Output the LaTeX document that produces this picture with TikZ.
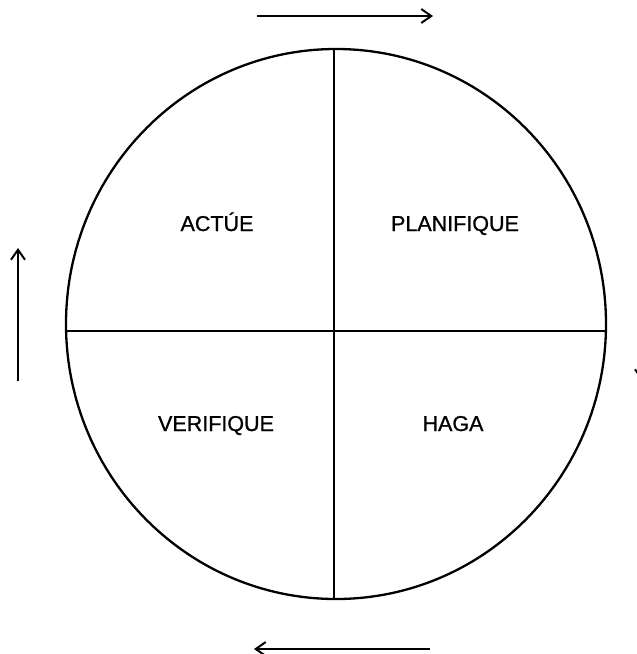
\documentclass[tikz,border=0pt]{standalone}
\usepackage{fontspec}
\setmainfont{Liberation Sans}
\newfontfamily\lbfont{Liberation Sans}[FakeBold=0.9]
\usetikzlibrary{arrows.meta}
\tikzset{
  rim/.style={draw=black,line width=2.3pt},
  cut/.style={draw=black,line width=1.7pt},
  flw/.style={-{Straight Barb[length=10pt,width=14pt,line width=2pt]},line width=2pt,draw=black},
  lb/.style={font=\lbfont\fontsize{21.5}{25}\selectfont,inner sep=0pt,anchor=base},
}
\begin{document}
\begin{tikzpicture}[x=1pt,y=-1pt]
\useasboundingbox (0,0) rectangle (637,654);
\clip (0,0) rectangle (637,654);
% ---------- wheel ----------
\coordinate (c) at (336,324);
\draw[rim] (c) ellipse [x radius=270,y radius=275];
\coordinate (t) at (334,49); \coordinate (b) at (334,599);
\coordinate (l) at (66,331); \coordinate (r) at (606,331);
\draw[cut] (t)--(b) (l)--(r);
% ---------- quadrant labels ----------
\node[lb] (act) at (217,231) {ACTÚE};
\node[lb] (pla) at (455,231) {PLANIFIQUE};
\node[lb] (ver) at (216,431) {VERIFIQUE};
\node[lb] (hag) at (453,431) {HAGA};
% ---------- direction of turn ----------
\coordinate (a1) at (257,16);  \coordinate (a2) at (433,16);
\coordinate (a3) at (642,290); \coordinate (a4) at (642,381);
\coordinate (a5) at (430,649); \coordinate (a6) at (254,649);
\coordinate (a7) at (18,381);  \coordinate (a8) at (18,248);
\draw[flw] (a1)--(a2);
\draw[flw] (a3)--(a4);
\draw[flw] (a5)--(a6);
\draw[flw] (a7)--(a8);
\end{tikzpicture}
\end{document}
